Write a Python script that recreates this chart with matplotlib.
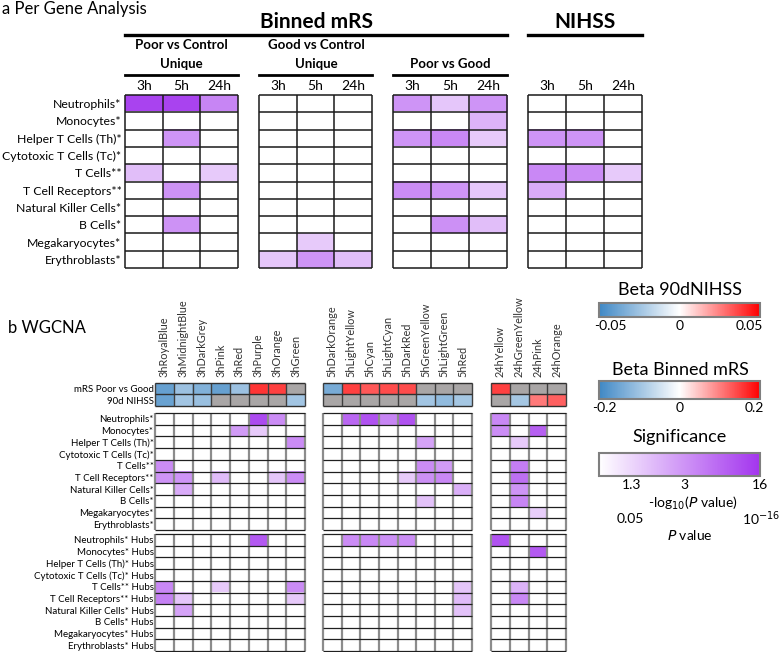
import numpy as np
import matplotlib
matplotlib.use("Agg")
import matplotlib.pyplot as plt
from matplotlib.colors import LinearSegmentedColormap, Normalize, FuncNorm, to_rgba
from matplotlib.cm import ScalarMappable
from matplotlib.lines import Line2D

plt.rcParams['font.family'] = ['Lato', 'DejaVu Sans']

# ---- data -------------------------------------------------------------
cell_types = ["Neutrophils*", "Monocytes*", "Helper T Cells (Th)*", "Cytotoxic T Cells (Tc)*",
              "T Cells**", "T Cell Receptors**", "Natural Killer Cells*", "B Cells*",
              "Megakaryocytes*", "Erythroblasts*"]
hub_types = [c + " Hubs" for c in cell_types]
time_points = ["3h", "5h", "24h"]

# per gene analysis, -log10(P) (0 = not significant)
sig_poor_ctrl = [[14, 14, 5], [0, 0, 0], [0, 3, 0], [0, 0, 0], [1.9, 0, 1.6],
                 [0, 3.2, 0], [0, 0, 0], [0, 3.2, 0], [0, 0, 0], [0, 0, 0]]
sig_good_ctrl = [[0, 0, 0], [0, 0, 0], [0, 0, 0], [0, 0, 0], [0, 0, 0],
                 [0, 0, 0], [0, 0, 0], [0, 0, 0], [0, 1.6, 0], [1.7, 3, 1.9]]
sig_poor_good = [[3, 1.7, 3], [0, 0, 2.2], [3, 4.5, 1.6], [0, 0, 0], [0, 0, 0],
                 [4, 3, 1.7], [0, 0, 0], [0, 3.5, 1.9], [0, 0, 0], [0, 0, 0]]
sig_nihss = [[0, 0, 0], [0, 0, 0], [3, 3, 0], [0, 0, 0], [4.5, 4, 1.6],
             [2.4, 0, 0], [0, 0, 0], [0, 0, 0], [0, 0, 0], [0, 0, 0]]

# WGCNA modules
modules_3h = ["3hRoyalBlue", "3hMidnightBlue", "3hDarkGrey", "3hPink", "3hRed",
              "3hPurple", "3hOrange", "3hGreen"]
modules_5h = ["5hDarkOrange", "5hLightYellow", "5hCyan", "5hLightCyan", "5hDarkRed",
              "5hGreenYellow", "5hLightGreen", "5hRed"]
modules_24h = ["24hYellow", "24hGreenYellow", "24hPink", "24hOrange"]

nan = np.nan
beta_mrs_3h = [-0.17, -0.11, -0.14, -0.17, -0.11, 0.17, 0.16, nan]
beta_mrs_5h = [-0.15, 0.16, 0.14, 0.15, 0.15, nan, nan, nan]
beta_mrs_24h = [0.16, nan, nan, nan]
beta_nihss_3h = [-0.045, -0.028, -0.03, nan, nan, nan, nan, -0.028]
beta_nihss_5h = [nan, nan, nan, nan, nan, -0.028, -0.033, -0.027]
beta_nihss_24h = [nan, -0.027, 0.03, 0.036]

sig_cells_3h = [[0, 0, 0, 0, 0, 13, 4, 0],
                [0, 0, 0, 0, 2.8, 1.6, 0, 0],
                [0, 0, 0, 0, 0, 0, 0, 4],
                [0, 0, 0, 0, 0, 0, 0, 0],
                [4, 0, 0, 0, 0, 0, 0, 0],
                [3, 3, 0, 2, 0, 0, 1.7, 4],
                [0, 2.4, 0, 0, 0, 0, 0, 0],
                [0, 0, 0, 0, 0, 0, 0, 0],
                [0, 0, 0, 0, 0, 0, 0, 0],
                [0, 0, 0, 0, 0, 0, 0, 0]]
sig_hubs_3h = [[0, 0, 0, 0, 0, 11, 0, 0],
               [0, 0, 0, 0, 0, 0, 0, 0],
               [0, 0, 0, 0, 0, 0, 0, 0],
               [0, 0, 0, 0, 0, 0, 0, 0],
               [4.5, 0, 0, 1.6, 0, 0, 0, 4],
               [5.5, 1.7, 0, 0, 0, 0, 0, 1.6],
               [0, 2.6, 0, 0, 0, 0, 0, 0],
               [0, 0, 0, 0, 0, 0, 0, 0],
               [0, 0, 0, 0, 0, 0, 0, 0],
               [0, 0, 0, 0, 0, 0, 0, 0]]
sig_cells_5h = [[0, 9, 12, 5, 12, 0, 0, 0],
                [0, 0, 0, 0, 0, 0, 0, 0],
                [0, 0, 0, 0, 0, 2.6, 0, 0],
                [0, 0, 0, 0, 0, 0, 0, 0],
                [0, 0, 0, 0, 0, 4, 2.8, 0],
                [0, 0, 0, 0, 1.6, 3.5, 4.5, 0],
                [0, 0, 0, 0, 0, 0, 0, 2.3],
                [0, 0, 0, 0, 0, 1.8, 0, 0],
                [0, 0, 0, 0, 0, 0, 0, 0],
                [0, 0, 0, 0, 0, 0, 0, 0]]
sig_hubs_5h = [[0, 4, 4.5, 3.5, 3.8, 0, 0, 0],
               [0, 0, 0, 0, 0, 0, 0, 0],
               [0, 0, 0, 0, 0, 0, 0, 0],
               [0, 0, 0, 0, 0, 0, 0, 0],
               [0, 0, 0, 0, 0, 0, 0, 1.7],
               [0, 0, 0, 0, 0, 0, 0, 2],
               [0, 0, 0, 0, 0, 0, 0, 1.8],
               [0, 0, 0, 0, 0, 0, 0, 0],
               [0, 0, 0, 0, 0, 0, 0, 0],
               [0, 0, 0, 0, 0, 0, 0, 0]]
sig_cells_24h = [[4.5, 0, 0, 0],
                 [3.8, 0, 10, 0],
                 [0, 1.6, 0, 0],
                 [0, 0, 0, 0],
                 [0, 6, 0, 0],
                 [0, 8, 0, 0],
                 [0, 3, 0, 0],
                 [0, 5, 0, 0],
                 [0, 0, 1.5, 0],
                 [0, 0, 0, 0]]
sig_hubs_24h = [[12, 0, 0, 0],
                [0, 0, 11, 0],
                [0, 0, 0, 0],
                [0, 0, 0, 0],
                [0, 2.2, 0, 0],
                [0, 4.5, 0, 0],
                [0, 0, 0, 0],
                [0, 0, 0, 0],
                [0, 0, 0, 0],
                [0, 0, 0, 0]]

# ---- colour scales ------------------------------------------------------
sig_cmap = LinearSegmentedColormap.from_list("sig", ["#FFFFFF", "#A335EE"])
sig_pts = [0, 1.3, 3, 16]
sig_pos = [0, 0.2, 0.53, 1.0]
sig_norm = FuncNorm((lambda v: np.interp(v, sig_pts, sig_pos),
                     lambda p: np.interp(p, sig_pos, sig_pts)), vmin=0, vmax=16)
beta_cmap = LinearSegmentedColormap.from_list("beta", ["#3F88C5", "#FFFFFF", "#FF0000"])
nihss_norm = Normalize(-0.058, 0.058)
mrs_norm = Normalize(-0.215, 0.215)
na_color = "#A9A6A6"

W, H = 781, 652
fig = plt.figure(figsize=(W / 100, H / 100), dpi=100)


def px_axes(x0, y0, x1, y1):
    return fig.add_axes([x0 / W, 1 - y1 / H, (x1 - x0) / W, (y1 - y0) / H])


def fig_text(x, y, s, **kw):
    fig.text(x / W, 1 - y / H, s, **kw)


def fig_line(x0, x1, y, lw):
    fig.add_artist(Line2D([x0 / W, x1 / W], [1 - y / H, 1 - y / H], color="black", lw=lw))


def finish(ax, nrow, ncol, vcolor, hcolor, vlw, hlw):
    ax.vlines(np.arange(ncol + 1), 0, nrow, colors=vcolor, lw=vlw, clip_on=False)
    ax.hlines(np.arange(nrow + 1), 0, ncol, colors=hcolor, lw=hlw, clip_on=False)
    ax.set_xlim(0, ncol)
    ax.set_ylim(nrow, 0)
    for s in ax.spines.values():
        s.set_visible(False)
    ax.set_xticks([])
    ax.set_yticks([])


def sig_block(ax, mat, vcolor="#1A1A1A", hcolor="#1A1A1A", vlw=1.0, hlw=1.0):
    mat = np.asarray(mat, dtype=float)
    nrow, ncol = mat.shape
    ax.imshow(mat, cmap=sig_cmap, norm=sig_norm, aspect="auto", interpolation="nearest",
              extent=(0, ncol, nrow, 0))
    finish(ax, nrow, ncol, vcolor, hcolor, vlw, hlw)


# ---- panel a ----------------------------------------------------------
fig_text(2, 9, "a Per Gene Analysis", fontsize=12, va="center", ha="left")
top_blocks = [(125, 238, sig_poor_ctrl), (259, 372, sig_good_ctrl),
              (393, 507, sig_poor_good), (528, 642, sig_nihss)]
for k, (x0, x1, mat) in enumerate(top_blocks):
    ax = px_axes(x0, 95, x1, 268)
    sig_block(ax, mat, vlw=1.1, hlw=1.1)
    ax.xaxis.tick_top()
    ax.set_xticks(np.arange(3) + 0.5, time_points, fontsize=10)
    ax.tick_params(axis="x", length=0, pad=2)
    if k == 0:
        ax.set_yticks(np.arange(len(cell_types)) + 0.5, cell_types, fontsize=8.8)
        ax.tick_params(axis="y", length=0, pad=2.5)

fig_text(316, 22, "Binned mRS", fontsize=15, fontweight="bold", ha="center", va="center")
fig_text(585, 22, "NIHSS", fontsize=15, fontweight="bold", ha="center", va="center")
fig_line(125, 507, 35, 2.4)
fig_line(528, 642, 35, 2.4)
fig_text(181, 45, "Poor vs Control", fontsize=9.5, fontweight="bold", ha="center", va="center")
fig_text(181, 64, "Unique", fontsize=9.5, fontweight="bold", ha="center", va="center")
fig_text(316, 45, "Good vs Control", fontsize=9.5, fontweight="bold", ha="center", va="center")
fig_text(316, 64, "Unique", fontsize=9.5, fontweight="bold", ha="center", va="center")
fig_text(450, 64, "Poor vs Good", fontsize=9.5, fontweight="bold", ha="center", va="center")
for x0, x1 in [(125, 238), (259, 372), (393, 507)]:
    fig_line(x0, x1, 75, 2.0)

# ---- panel b ----------------------------------------------------------
fig_text(8, 328, "b WGCNA", fontsize=12, va="center", ha="left")
bottom_blocks = [(155, 305, modules_3h, beta_mrs_3h, beta_nihss_3h, sig_cells_3h, sig_hubs_3h),
                 (323, 472, modules_5h, beta_mrs_5h, beta_nihss_5h, sig_cells_5h, sig_hubs_5h),
                 (491, 566, modules_24h, beta_mrs_24h, beta_nihss_24h, sig_cells_24h, sig_hubs_24h)]
for k, (x0, x1, mods, b_mrs, b_nihss, cells, hubs) in enumerate(bottom_blocks):
    # beta rows
    ax = px_axes(x0, 383, x1, 406)
    rgb = np.zeros((2, len(mods), 4))
    for j, (vm, vn) in enumerate(zip(b_mrs, b_nihss)):
        rgb[0, j] = to_rgba(na_color) if np.isnan(vm) else beta_cmap(mrs_norm(vm))
        rgb[1, j] = to_rgba(na_color) if np.isnan(vn) else beta_cmap(nihss_norm(vn))
    ax.imshow(rgb, aspect="auto", interpolation="nearest", extent=(0, len(mods), 2, 0))
    finish(ax, 2, len(mods), "#404040", "#303030", 1.0, 1.0)
    ax.xaxis.tick_top()
    ax.set_xticks(np.arange(len(mods)) + 0.5, mods, rotation=90, fontsize=7.8, color="#333333")
    ax.tick_params(axis="x", length=0, pad=4)
    if k == 0:
        ax.set_yticks([0.5, 1.5], ["mRS Poor vs Good", "90d NIHSS"], fontsize=7)
        ax.tick_params(axis="y", length=0, pad=1)

    ax = px_axes(x0, 413, x1, 530)
    sig_block(ax, cells, vcolor="#8C8C8C", hcolor="#202020", vlw=1.6, hlw=0.9)
    if k == 0:
        ax.set_yticks(np.arange(len(cell_types)) + 0.5, cell_types, fontsize=7)
        ax.tick_params(axis="y", length=0, pad=1)

    ax = px_axes(x0, 534, x1, 651)
    sig_block(ax, hubs, vcolor="#8C8C8C", hcolor="#202020", vlw=1.6, hlw=0.9)
    if k == 0:
        ax.set_yticks(np.arange(len(hub_types)) + 0.5, hub_types, fontsize=7)
        ax.tick_params(axis="y", length=0, pad=1)

# ---- colour legends ---------------------------------------------------
def legend_bar(y0, y1, title, title_y, norm, cmap, ticks, ticklabels):
    cax = px_axes(599, y0, 760, y1)
    cb = fig.colorbar(ScalarMappable(norm=norm, cmap=cmap), cax=cax, orientation="horizontal")
    cb.set_ticks(ticks, labels=ticklabels)
    cb.ax.tick_params(length=0, pad=2, labelsize=10)
    cb.outline.set_edgecolor("#7F7F7F")
    cb.outline.set_linewidth(1.5)
    fig_text(680, title_y, title, fontsize=13, ha="center", va="center")
    return cb


legend_bar(303, 317, "Beta 90dNIHSS", 290, nihss_norm, beta_cmap,
           [-0.05, 0, 0.05], ["-0.05", "0", "0.05"])
legend_bar(381, 399, "Beta Binned mRS", 370, mrs_norm, beta_cmap,
           [-0.2, 0, 0.2], ["-0.2", "0", "0.2"])
cb = legend_bar(453, 476, "Significance", 437, sig_norm, sig_cmap,
                [1.3, 3, 16], ["1.3", "3", "16"])
fig_text(693, 503, r"-log$_{10}$($\it{P}$ value)", fontsize=10, ha="center", va="center")
fig_text(630, 519, "0.05", fontsize=10, ha="center", va="center")
fig_text(780, 519, r"10$^{-16}$", fontsize=10, ha="right", va="center")
fig_text(690, 535, r"$\it{P}$ value", fontsize=10, ha="center", va="center")

fig.savefig("out.png", dpi=100)
